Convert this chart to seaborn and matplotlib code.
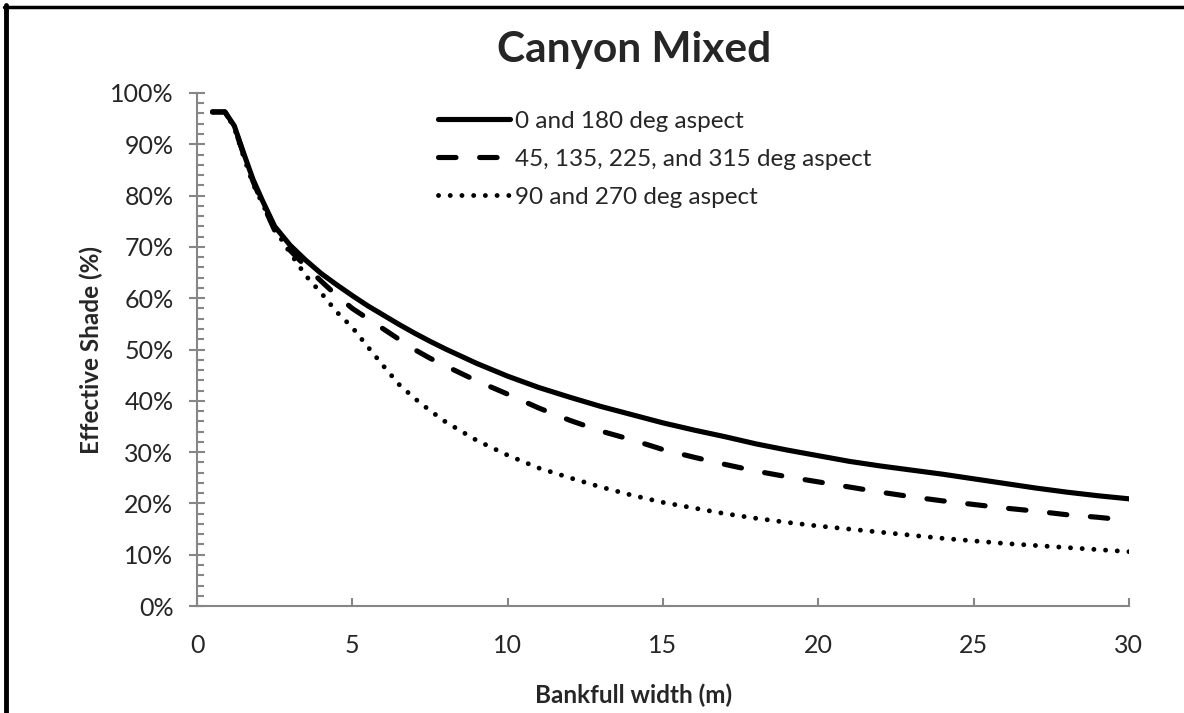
import numpy as np
import pandas as pd
import matplotlib
matplotlib.use("Agg")
import matplotlib.pyplot as plt
from matplotlib.lines import Line2D
from matplotlib.ticker import MultipleLocator, PercentFormatter
import seaborn as sns

# Datos (anchura en m, sombra en %)
bankfull_width = [0.5, 0.9, 1.2, 1.5, 1.8, 2.1, 2.5, 3, 3.5, 4, 4.5, 5, 5.5, 6, 6.5, 7, 7.5, 8,
                  9, 10, 11, 12, 13, 14, 15, 16, 17, 18, 19, 20, 21, 22, 23, 24, 25, 26, 27,
                  28, 29, 30]
shade_0_180 = [96.3, 96.3, 93.6, 88.3, 83.2, 79.1, 74.0, 70.3, 67.4, 64.8, 62.6, 60.5, 58.5,
               56.7, 54.9, 53.2, 51.6, 50.1, 47.3, 44.8, 42.6, 40.7, 38.9, 37.3, 35.7, 34.3,
               33.0, 31.6, 30.4, 29.3, 28.2, 27.3, 26.5, 25.7, 24.8, 23.9, 23.0, 22.2, 21.5,
               20.9]
shade_45_135 = [96.3, 96.3, 93.4, 88.0, 82.8, 78.6, 73.2, 69.3, 66.2, 63.3, 60.5, 58.0, 56.0,
                54.0, 52.0, 50.0, 48.3, 46.8, 43.9, 41.3, 38.6, 36.2, 34.1, 32.4, 30.5, 29.0,
                27.6, 26.3, 25.2, 24.2, 23.2, 22.2, 21.3, 20.5, 19.8, 19.1, 18.5, 17.8, 17.3,
                16.7]
shade_90_270 = [96.3, 96.3, 93.2, 87.6, 82.3, 78.5, 73.5, 68.8, 64.4, 61.0, 57.3, 54.3, 50.5,
                46.8, 43.2, 40.5, 38.1, 35.9, 32.3, 29.4, 26.9, 25.0, 23.2, 21.6, 20.2, 19.1,
                18.0, 17.1, 16.3, 15.6, 15.0, 14.4, 13.8, 13.2, 12.7, 12.2, 11.8, 11.4, 11.0,
                10.6]
series_labels = ["0 and 180 deg aspect",
                 "45, 135, 225, and 315 deg aspect",
                 "90 and 270 deg aspect"]

sns.set_theme(style="white")
plt.rcParams["font.family"] = ["Lato", "DejaVu Sans"]

fig = plt.figure(figsize=(11.84, 7.13), dpi=100)
ax = fig.add_axes([0.1664, 0.150, 0.7871, 0.7196])

estilos = [dict(linestyle="-", linewidth=3.7),
           dict(linestyle=(0, (3.4, 4.6)), linewidth=3.7),
           dict(linestyle=(0, (0.01, 2.4)), linewidth=3.5)]
for valores, etiqueta, est in zip([shade_0_180, shade_45_135, shade_90_270], series_labels, estilos):
    df = pd.DataFrame({"x": bankfull_width, "y": valores})
    sns.lineplot(data=df, x="x", y="y", ax=ax, color="black", label=etiqueta,
                 solid_capstyle="round", dash_capstyle="round", **est)

ax.set_xlim(0, 30)
ax.set_ylim(0, 100)
ax.xaxis.set_major_locator(MultipleLocator(5))
ax.yaxis.set_major_locator(MultipleLocator(10))
ax.yaxis.set_minor_locator(MultipleLocator(2))
ax.yaxis.set_major_formatter(PercentFormatter(decimals=0))

gris = "#868686"
for lado in ["top", "right"]:
    ax.spines[lado].set_visible(False)
for lado in ["left", "bottom"]:
    ax.spines[lado].set_color(gris)
    ax.spines[lado].set_linewidth(1.5)

ax.tick_params(axis="x", which="major", direction="in", length=6, width=1.5, color=gris,
               labelsize=18, pad=20, bottom=True)
ax.tick_params(axis="y", which="major", direction="inout", length=12, width=1.5, color=gris,
               labelsize=18, pad=11, left=True)
ax.tick_params(axis="y", which="minor", direction="in", length=5, width=1.5, color=gris, left=True)

ax.set_xlabel("Bankfull width (m)", fontsize=17.5, fontweight="bold", labelpad=19, x=0.468)
ax.set_ylabel("Effective Shade (%)", fontsize=17.5, fontweight="bold", labelpad=5)
ax.set_title("Canyon Mixed", fontsize=30.5, fontweight="bold", pad=22, x=0.469)

ax.legend(loc="upper left", bbox_to_anchor=(0.259, 0.965), frameon=False, fontsize=17.5,
          handlelength=2.95, handletextpad=0.2, labelspacing=0.7, borderaxespad=0, borderpad=0)

# marco de la figura (izquierda y arriba)
fig.add_artist(Line2D([5.5 / 1184, 5.5 / 1184], [0, 1 - 5 / 713], color="black", linewidth=3.5))
fig.add_artist(Line2D([3.5 / 1184, 1], [1 - 6.5 / 713, 1 - 6.5 / 713], color="black", linewidth=2.5))

fig.savefig("out.png", dpi=100)
